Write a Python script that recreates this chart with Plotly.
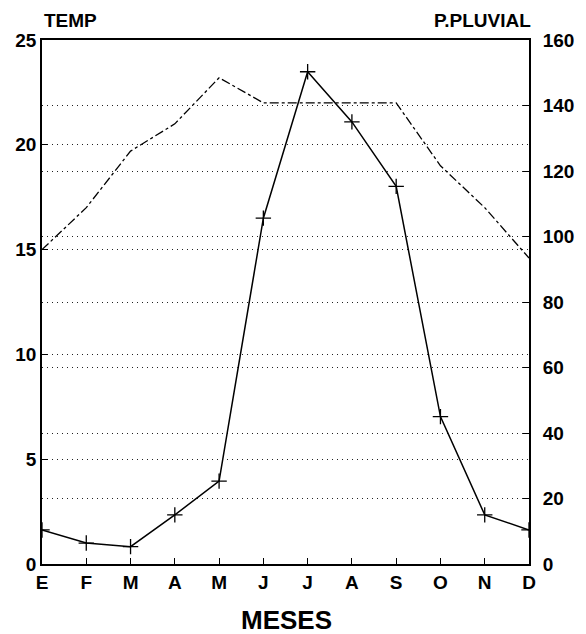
import plotly.graph_objects as go

months = ["E", "F", "M", "A", "M", "J", "J", "A", "S", "O", "N", "D"]
temp = [15.0, 17.0, 19.7, 21.0, 23.2, 22.0, 22.0, 22.0, 22.0, 19.0, 17.0, 14.6]
precip = [10.4, 6.4, 5.3, 15.0, 25.3, 105.6, 150.3, 135.0, 115.3, 45.0, 15.0, 10.4]
temp_ticks = [0, 5, 10, 15, 20, 25]
precip_ticks = [0, 20, 40, 60, 80, 100, 120, 140, 160]

x = list(range(len(months)))
FAM = "Liberation Sans, Arial, sans-serif"
tfont = dict(family=FAM, size=19, color="black", weight="bold")

fig = go.Figure()
fig.add_trace(go.Scatter(
    x=x, y=temp, mode="lines", name="TEMP",
    line=dict(color="black", width=1.3, dash="dashdot"),
    yaxis="y"))
fig.add_trace(go.Scatter(
    x=x, y=precip, mode="lines+markers", name="P.PLUVIAL",
    line=dict(color="black", width=1.5),
    marker=dict(symbol="cross-thin", size=11, line=dict(color="black", width=1.3)),
    yaxis="y2"))

grid = dict(showgrid=True, gridcolor="#222", griddash="1px,4px", gridwidth=1.2)

fig.update_layout(
    width=586, height=634,
    margin=dict(l=42, r=51, t=40, b=70),
    paper_bgcolor="white", plot_bgcolor="white",
    showlegend=False,
    font=tfont,
    xaxis=dict(
        range=[0, 11], tickmode="array", tickvals=x, ticktext=months,
        showgrid=False, zeroline=False,
        showline=True, linecolor="black", linewidth=1.8, mirror=True,
        ticks="inside", ticklen=6, tickcolor="black", tickfont=tfont,
    ),
    yaxis=dict(
        range=[0, 25], tickmode="array", tickvals=temp_ticks,
        zeroline=False, showline=True, linecolor="black", linewidth=1.8,
        ticks="inside", ticklen=6, tickcolor="black", tickfont=tfont,
        **grid,
    ),
    yaxis2=dict(
        range=[0, 160], tickmode="array", tickvals=precip_ticks,
        overlaying="y", side="right",
        zeroline=False, showline=True, linecolor="black", linewidth=1.8,
        ticks="inside", ticklen=6, tickcolor="black", tickfont=tfont,
        ticklabelstandoff=8,
        **grid,
    ),
    annotations=[
        dict(text="TEMP", xref="paper", yref="paper", x=0.0, y=1.038,
             xanchor="left", yanchor="middle", showarrow=False,
             font=dict(family=FAM, size=19, color="black", weight="bold")),
        dict(text="P.PLUVIAL", xref="paper", yref="paper", x=1.008, y=1.038,
             xanchor="right", yanchor="middle", showarrow=False,
             font=dict(family=FAM, size=19, color="black", weight="bold")),
        dict(text="MESES", xref="paper", yref="paper", x=0.503, y=-0.106,
             xanchor="center", yanchor="middle", showarrow=False,
             font=dict(family=FAM, size=26, color="black")),
    ],
)

fig.write_html("out.html",
               config={"displayModeBar": False},
               post_script="document.body.style.margin='0';document.body.style.overflow='hidden';")
